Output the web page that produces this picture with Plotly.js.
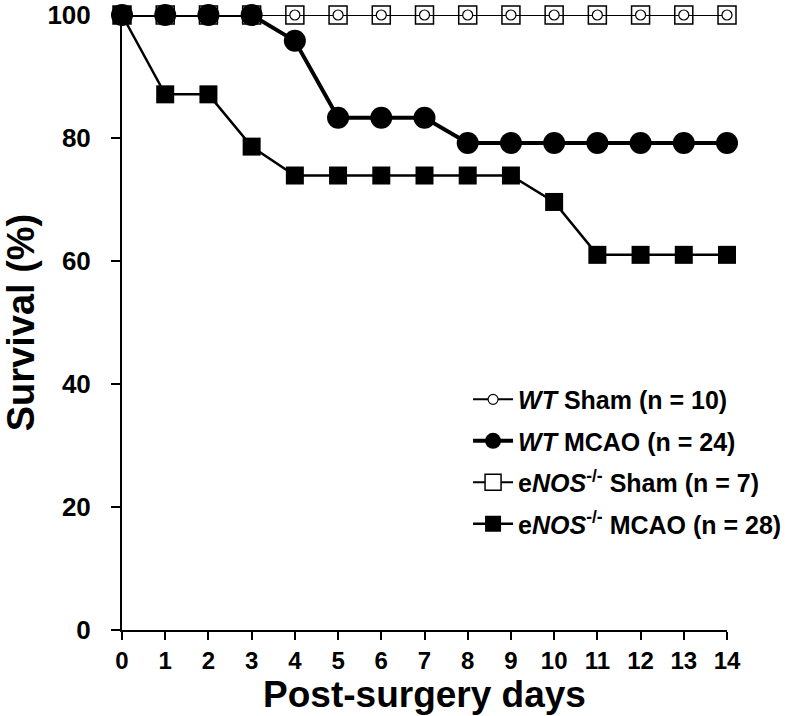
<!DOCTYPE html>
<html>
<head>
<meta charset="utf-8">
<script src="https://cdn.plot.ly/plotly-3.0.1.min.js"></script>
<style>html,body{margin:0;padding:0;background:#fff;}#chart{width:800px;height:716px;}</style>
</head>
<body>
<div id="chart"></div>
<script>
const days = [0,1,2,3,4,5,6,7,8,9,10,11,12,13,14];
const wtSham = [100,100,100,100,100,100,100,100,100,100,100,100,100,100,100];
const wtMCAO = [100,100,100,100,95.8,83.3,83.3,83.3,79.2,79.2,79.2,79.2,79.2,79.2,79.2];
const enosSham = [100,100,100,100,100,100,100,100,100,100,100,100,100,100,100];
const enosMCAO = [100,87.1,87.1,78.6,73.9,73.9,73.9,73.9,73.9,73.9,69.6,61.0,61.0,61.0,61.0];
const yTicks = [0,20,40,60,80,100];
const names = [
  '<i>WT</i> Sham (n = 10)',
  '<i>WT</i> MCAO (n = 24)',
  'e<i>NOS</i><sup>-/-</sup> Sham (n = 7)',
  'e<i>NOS</i><sup>-/-</sup> MCAO (n = 28)'
];

const FONT = 'Arial, "Liberation Sans", sans-serif';

const traces = [
  { x: days, y: enosSham, name: names[2], legendrank: 3, legendgroup: 'c',
    mode: 'lines+markers', cliponaxis: false,
    line: {color: '#000', width: 2},
    marker: {symbol: 'square', size: 18, color: '#fff', line: {color: '#000', width: 1.5}} },
  { x: days, y: wtSham, name: names[0], legendrank: 1, legendgroup: 'a',
    mode: 'lines+markers', cliponaxis: false,
    line: {color: '#000', width: 2},
    marker: {symbol: 'circle', size: 10, color: '#fff', line: {color: '#000', width: 1.2}} },
  { x: days, y: enosMCAO, name: names[3], legendrank: 4, legendgroup: 'd',
    mode: 'lines+markers', cliponaxis: false,
    line: {color: '#000', width: 2.5},
    marker: {symbol: 'square', size: 18, color: '#000'} },
  { x: days, y: wtMCAO, name: names[1], legendrank: 2, legendgroup: 'b',
    mode: 'lines+markers', cliponaxis: false,
    line: {color: '#000', width: 4},
    marker: {symbol: 'circle', size: 22, color: '#000'} }
];

const layout = {
  width: 800, height: 716,
  paper_bgcolor: '#fff', plot_bgcolor: '#fff',
  margin: {l: 122, r: 73, t: 15, b: 86},
  font: {family: FONT, color: '#000', weight: 'bold'},
  showlegend: true,
  legend: {
    x: 0.572, y: 0.412, xanchor: 'left', yanchor: 'top',
    font: {family: FONT, size: 25, color: '#000', weight: 'bold'},
    bgcolor: 'rgba(0,0,0,0)', borderwidth: 0, traceorder: 'grouped', tracegroupgap: 6,
    itemwidth: 40
  },
  xaxis: {
    range: [0, 14], tickvals: days, ticktext: days.map(String),
    showgrid: false, zeroline: false, showline: true, linecolor: '#000', linewidth: 2,
    ticks: 'outside', ticklen: 8, tickwidth: 2, tickcolor: '#000',
    tickfont: {family: FONT, size: 24, color: '#000', weight: 'bold'},
    ticklabeloverflow: 'allow',
    title: {text: 'Post-surgery days', font: {family: FONT, size: 37, color: '#000', weight: 'bold'}, standoff: 2},
    automargin: false
  },
  yaxis: {
    range: [0, 100], tickvals: yTicks, ticktext: yTicks.map(String),
    showgrid: false, zeroline: false, showline: true, linecolor: '#000', linewidth: 2,
    ticks: 'outside', ticklen: 9, tickwidth: 2, tickcolor: '#000',
    tickfont: {family: FONT, size: 26, color: '#000', weight: 'bold'},
    ticklabeloverflow: 'allow', ticklabelstandoff: 15,
    title: {text: 'Survival (%)', font: {family: FONT, size: 38, color: '#000', weight: 'bold'}, standoff: 14},
    automargin: false
  }
};

Plotly.newPlot('chart', traces, layout, {displayModeBar: false, staticPlot: true});
</script>
</body>
</html>
